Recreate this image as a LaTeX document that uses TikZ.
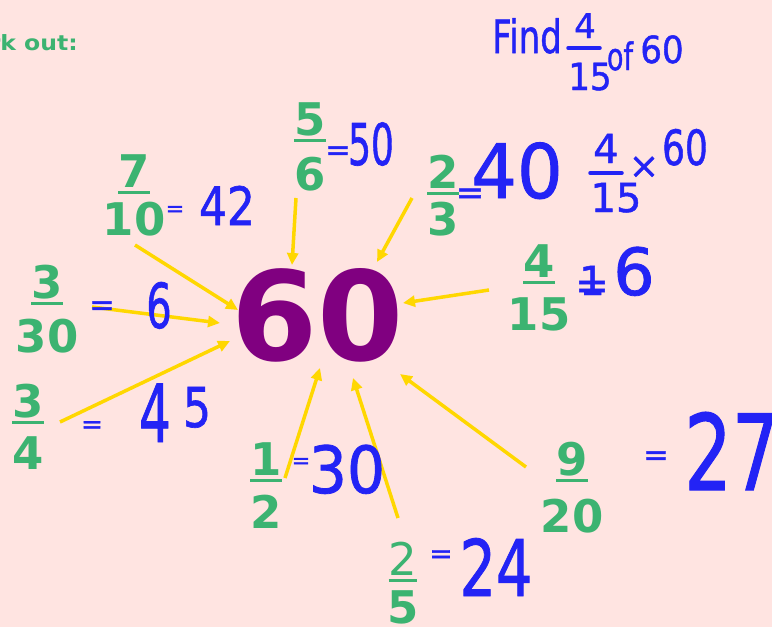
\documentclass[tikz,border=0pt]{standalone}
\usepackage{fontspec}
\setmainfont{DejaVu Sans}
\newfontfamily\hwfont{DejaVu Sans}[FakeBold=1.2]
\usetikzlibrary{arrows.meta}
\definecolor{bg}{RGB}{255,228,225}
\definecolor{fgreen}{RGB}{60,179,113}
\definecolor{fpurple}{RGB}{128,0,128}
\definecolor{ayellow}{RGB}{255,215,0}
\definecolor{hwblue}{RGB}{35,35,245}
\newcommand\ulnum[1]{\setbox0\hbox{#1}\rlap{\raisebox{-6.5pt}{\rule{\wd0}{3pt}}}\box0}
\tikzset{
  fr/.style={text=fgreen, inner sep=0, anchor=base, font=\bfseries\fontsize{45}{45}\selectfont},
  hw/.style={text=hwblue, inner sep=0, anchor=base, font=\hwfont\fontsize{#1}{#1}\selectfont},
  hwline/.style={draw=hwblue, line width=3.5pt, line cap=round},
  arr/.style={draw=ayellow, line width=3.5pt, -{Triangle[length=12pt,width=11pt]}}
}
\newcommand\frc[6]{%
  \node[fr] (#1n) at (#2,#3) {\ulnum{#5}};
  \node[fr] (#1d) at (#2,#4) {#6};}
\begin{document}
\begin{tikzpicture}[x=1pt,y=-1pt]
\useasboundingbox (0,0) rectangle (772,627);
\clip (0,0) rectangle (772,627);
\fill[bg] (0,0) rectangle (772,627);

\node[text=fgreen, inner sep=0, anchor=base east, xscale=1.12, font=\bfseries\fontsize{21}{21}\selectfont] (title) at (78,50) {Work out:};

% central number
\node[text=fpurple, inner sep=0, anchor=base, font=\bfseries\fontsize{124}{124}\selectfont] (sixty) at (317.5,360) {60};

% fractions
\frc{a}{134}{187}{235}{7}{10}
\frc{b}{310}{135}{190}{5}{6}
\frc{c}{443}{188}{235}{2}{3}
\frc{d}{539}{277}{330}{4}{15}
\frc{e}{47}{298}{352}{3}{30}
\frc{f}{28}{417}{469}{3}{4}
\frc{g}{266}{475}{528}{1}{2}
\frc{h}{572}{475}{532}{9}{20}
\node[fr] (in) at (403,575) {\mdseries\ulnum{2}};
\node[fr] (id) at (403,623) {5};

% arrows
\coordinate (s1) at (135,245); \coordinate (t1) at (238,310);
\coordinate (s2) at (92,307);  \coordinate (t2) at (220,323);
\coordinate (s3) at (60,422);  \coordinate (t3) at (230,341);
\coordinate (s4) at (296,198); \coordinate (t4) at (292,265);
\coordinate (s5) at (412,198); \coordinate (t5) at (377,262);
\coordinate (s6) at (489,290); \coordinate (t6) at (403,303);
\coordinate (s7) at (285,478); \coordinate (t7) at (320,368);
\coordinate (s8) at (398,518); \coordinate (t8) at (353,378);
\coordinate (s9) at (526,467); \coordinate (t9) at (400,374);
\foreach \i in {1,...,9} {\draw[arr] (s\i) -- (t\i);}

% handwriting: Find 4/15 of 60
\node[hw=34, yscale=1.35] (find) at (527,53) {Find};
\node[hw=34] (fn4) at (585,38) {4};
\draw[hwline] (568,48) -- (600,48);
\node[hw=34, yscale=1.1] (fd15) at (590,90) {15};
\node[hw=27, yscale=1.4] (of) at (620,70) {of};
\node[hw=34, yscale=1.1] (f60) at (662,63) {60};

% =50
\node[hw=30] (e1) at (338,160) {=};
\node[hw=36, yscale=1.6] (r50) at (371,165) {50};
% =42
\node[hw=22] (e2) at (175,216) {=};
\node[hw=44, yscale=1.2] (r42) at (227,225) {42};
% =40
\node[hw=34] (e3) at (470,204) {=};
\node[hw=60, xscale=1.2, yscale=1.25] (r40) at (517,198) {40};
% 4/15 x 60
\node[hw=40] (m4) at (606,163) {4};
\draw[hwline] (590,173) -- (622,173);
\node[hw=40] (m15) at (616,212) {15};
\node[hw=36] (mx) at (644,178) {×};
\node[hw=36, yscale=1.35] (m60) at (685,165) {60};
% =6
\node[hw=30] (e4) at (102,315) {=};
\node[hw=40, yscale=1.55] (r6) at (159,328) {6};
% =45
\node[hw=26] (e5) at (92,433) {=};
\node[hw=50, yscale=1.6] (r4) at (155,442) {4};
\node[hw=44, yscale=1.25] (r5) at (197,427) {5};
% =16
\node[hw=40] (r1) at (592,295) {\ooalign{1\cr\hidewidth\raisebox{-4pt}{=}\hidewidth}};
\node[hw=50, xscale=1.3, yscale=1.3] (r16) at (634,295) {6};
% =30
\node[hw=22] (e6) at (301,468) {=};
\node[hw=50, xscale=1.2, yscale=1.3] (r30) at (347,493) {30};
% =24
\node[hw=28] (e7) at (441,563) {=};
\node[hw=52, xscale=1.1, yscale=1.5] (r24) at (496,596) {24};
% =27
\node[hw=30] (e8) at (656,465) {=};
\node[hw=60, xscale=1.25, yscale=1.75, anchor=base west] (r27) at (684,490) {27};
\end{tikzpicture}
\end{document}
